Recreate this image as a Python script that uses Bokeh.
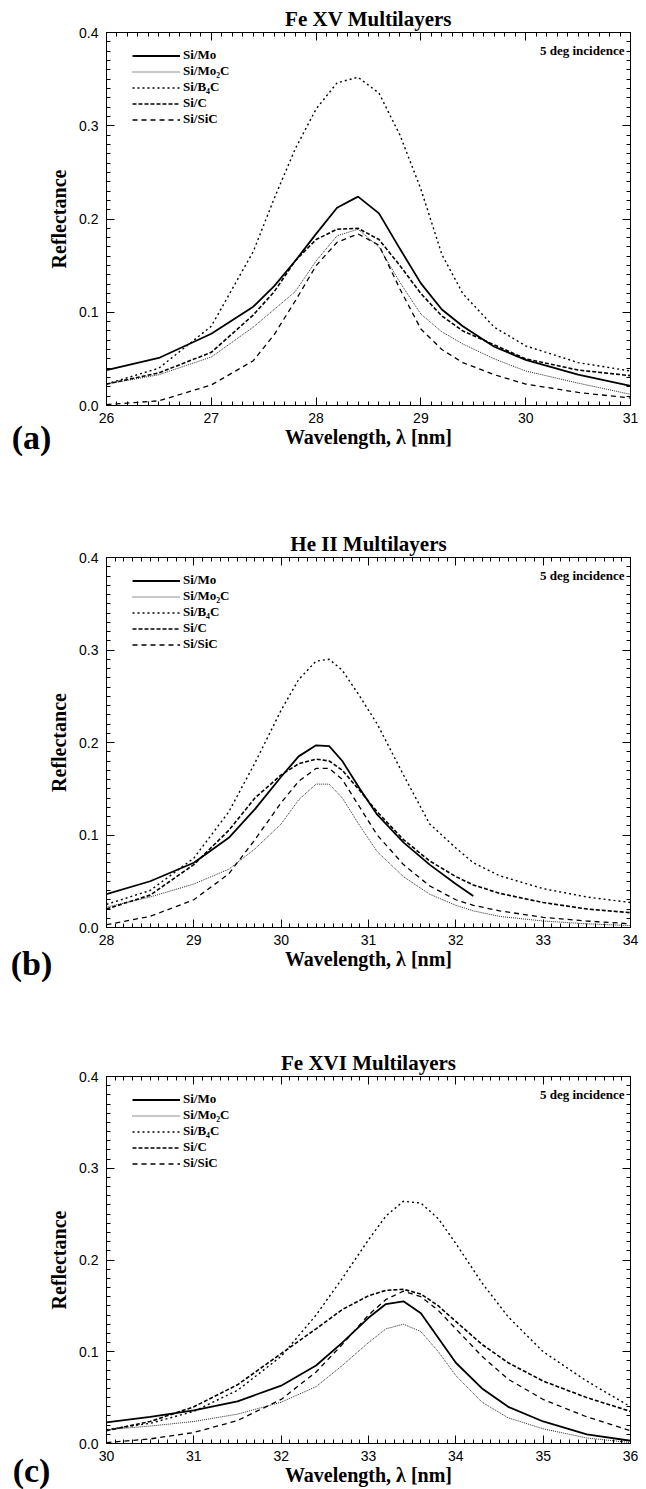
import numpy as np
from bokeh.plotting import figure
from bokeh.layouts import column
from bokeh.models import (Range1d, FixedTicker, NumeralTickFormatter, LinearAxis,
                          Legend, LegendItem, Label, CustomJSTickFormatter)
from bokeh.embed import file_html
from bokeh.resources import INLINE

# ---------------- data ----------------
series_names = ["Si/Mo", "Si/Mo\u2082C", "Si/B\u2084C", "Si/C", "Si/SiC"]
y_ticks = [0.0, 0.1, 0.2, 0.3, 0.4]
incidence_text = "5 deg incidence"
x_label = "Wavelength, \u03bb [nm]"
y_label = "Reflectance"

# (a) Fe XV
a_title = "Fe XV Multilayers"
a_tag = "(a)"
a_ticks = [26, 27, 28, 29, 30, 31]
a_wl = [26.0, 26.5, 27.0, 27.4, 27.6, 27.8, 28.0, 28.2, 28.4, 28.6, 28.8, 29.0, 29.2, 29.4, 29.7, 30.0, 30.5, 31.0]
a_si_mo = [0.038, 0.051, 0.077, 0.106, 0.128, 0.155, 0.184, 0.212, 0.224, 0.206, 0.168, 0.131, 0.103, 0.085, 0.063, 0.049, 0.033, 0.021]
a_si_mo2c = [0.023, 0.033, 0.052, 0.084, 0.103, 0.122, 0.155, 0.182, 0.189, 0.170, 0.132, 0.098, 0.079, 0.066, 0.050, 0.037, 0.024, 0.012]
a_si_b4c = [0.023, 0.040, 0.085, 0.165, 0.222, 0.275, 0.318, 0.346, 0.352, 0.335, 0.290, 0.232, 0.162, 0.120, 0.084, 0.064, 0.046, 0.037]
a_si_c = [0.023, 0.035, 0.057, 0.097, 0.122, 0.155, 0.178, 0.189, 0.190, 0.178, 0.150, 0.120, 0.096, 0.080, 0.065, 0.050, 0.038, 0.032]
a_si_sic = [0.001, 0.005, 0.022, 0.048, 0.076, 0.112, 0.150, 0.175, 0.184, 0.172, 0.125, 0.082, 0.060, 0.046, 0.033, 0.023, 0.014, 0.008]

# (b) He II
b_title = "He II Multilayers"
b_tag = "(b)"
b_ticks = [28, 29, 30, 31, 32, 33, 34]
b_wl = [28.0, 28.5, 29.0, 29.4, 29.7, 30.0, 30.2, 30.4, 30.55, 30.7, 30.9, 31.1, 31.4, 31.7, 32.0, 32.2, 32.5, 33.0, 33.5, 34.0]
nan = float("nan")
b_si_mo = [0.036, 0.050, 0.070, 0.097, 0.128, 0.163, 0.185, 0.197, 0.196, 0.180, 0.150, 0.122, 0.092, 0.068, 0.047, 0.034, nan, nan, nan, nan]
b_si_mo2c = [0.022, 0.033, 0.047, 0.063, 0.085, 0.112, 0.138, 0.155, 0.155, 0.140, 0.110, 0.082, 0.055, 0.036, 0.024, 0.018, 0.012, 0.007, 0.004, 0.002]
b_si_b4c = [0.025, 0.040, 0.075, 0.125, 0.178, 0.235, 0.268, 0.288, 0.290, 0.278, 0.250, 0.220, 0.165, 0.112, 0.086, 0.070, 0.056, 0.042, 0.033, 0.027]
b_si_c = [0.020, 0.035, 0.068, 0.105, 0.140, 0.165, 0.177, 0.182, 0.180, 0.170, 0.148, 0.125, 0.095, 0.072, 0.055, 0.046, 0.037, 0.027, 0.020, 0.016]
b_si_sic = [0.003, 0.012, 0.030, 0.058, 0.095, 0.135, 0.158, 0.172, 0.172, 0.160, 0.130, 0.100, 0.068, 0.045, 0.030, 0.024, 0.018, 0.011, 0.007, 0.004]

# (c) Fe XVI
c_title = "Fe XVI Multilayers"
c_tag = "(c)"
c_ticks = [30, 31, 32, 33, 34, 35, 36]
c_wl = [30.0, 30.5, 31.0, 31.5, 32.0, 32.4, 32.7, 33.0, 33.2, 33.4, 33.6, 33.8, 34.0, 34.3, 34.6, 35.0, 35.5, 36.0]
c_si_mo = [0.023, 0.029, 0.036, 0.046, 0.063, 0.085, 0.110, 0.137, 0.152, 0.155, 0.142, 0.115, 0.088, 0.060, 0.040, 0.024, 0.010, 0.003]
c_si_mo2c = [0.015, 0.019, 0.024, 0.032, 0.045, 0.062, 0.085, 0.110, 0.125, 0.130, 0.122, 0.100, 0.074, 0.045, 0.028, 0.016, 0.006, 0.001]
c_si_b4c = [0.015, 0.022, 0.035, 0.058, 0.095, 0.140, 0.180, 0.222, 0.248, 0.264, 0.262, 0.245, 0.218, 0.175, 0.138, 0.100, 0.068, 0.040]
c_si_c = [0.014, 0.024, 0.040, 0.064, 0.098, 0.125, 0.146, 0.161, 0.167, 0.168, 0.163, 0.150, 0.133, 0.108, 0.088, 0.068, 0.050, 0.035]
c_si_sic = [0.001, 0.005, 0.012, 0.025, 0.048, 0.078, 0.108, 0.140, 0.157, 0.166, 0.160, 0.145, 0.125, 0.095, 0.070, 0.048, 0.029, 0.014]

# ---------------- styles ----------------
STYLES = {
    "Si/Mo": dict(line_width=1.8, line_dash="solid", line_color="black"),
    "Si/Mo\u2082C": dict(line_width=0.9, line_dash="1 1", line_color="#111111"),
    "Si/B\u2084C": dict(line_width=1.4, line_dash="2 3", line_color="black"),
    "Si/C": dict(line_width=1.6, line_dash="4 2", line_color="black"),
    "Si/SiC": dict(line_width=1.3, line_dash="5 4", line_color="black"),
}
SERIF = "Liberation Serif"
SANS = "Liberation Sans"


def style_axis(ax, ticker, formatter, show_labels):
    ax.ticker = ticker
    ax.major_tick_in = 8
    ax.major_tick_out = 0
    ax.minor_tick_in = 4
    ax.minor_tick_out = 0
    ax.axis_line_color = "black"
    ax.major_tick_line_color = "black"
    ax.minor_tick_line_color = "black"
    if show_labels:
        ax.formatter = formatter
        ax.major_label_text_font = SANS
        ax.major_label_text_font_size = "14px"
        ax.major_label_text_color = "black"
        ax.axis_label_text_font = SERIF
        ax.axis_label_text_font_style = "bold"
        ax.axis_label_text_font_size = "20px"
        ax.axis_label_text_color = "black"
    else:
        ax.formatter = CustomJSTickFormatter(code="return ''")
        ax.major_label_text_font_size = "1px"
        ax.major_label_standoff = 0


def make_panel(title, tag, tag_drop, wl, curves, xticks, height, top, bottom):
    x0, x1 = xticks[0], xticks[-1]
    p = figure(width=646, height=height,
               x_range=Range1d(x0, x1), y_range=Range1d(y_ticks[0], y_ticks[-1]),
               output_backend="svg", toolbar_location=None, title=title,
               min_border_left=106, min_border_right=16,
               min_border_top=top, min_border_bottom=bottom,
               x_axis_label=x_label, y_axis_label=y_label)
    p.title.text_font = SERIF
    p.title.text_font_style = "bold"
    p.title.text_font_size = "21px"
    p.title.text_color = "black"
    p.title.align = "center"
    p.title.standoff = 4
    p.grid.visible = False
    p.outline_line_color = "black"
    p.outline_line_width = 1
    p.background_fill_color = "white"
    p.border_fill_color = "white"

    xt = FixedTicker(ticks=list(xticks),
                     minor_ticks=[float(v) for v in np.round(np.arange(x0, x1 + 1e-9, 0.1), 3)])
    yt = FixedTicker(ticks=list(y_ticks),
                     minor_ticks=[float(v) for v in np.round(np.arange(0, 0.4 + 1e-9, 0.01), 3)])

    xa = p.xaxis[0]
    ya = p.yaxis[0]
    style_axis(xa, xt, NumeralTickFormatter(format="0"), True)
    style_axis(ya, yt, NumeralTickFormatter(format="0.0"), True)
    xa.major_label_standoff = 7
    xa.axis_label_standoff = 0
    ya.major_label_standoff = 8
    ya.axis_label_standoff = 6

    for loc, t in (("right", yt), ("above", xt)):
        ax = LinearAxis()
        style_axis(ax, t, None, False)
        p.add_layout(ax, loc)

    items = []
    for name, vals in zip(series_names, curves):
        r = p.line(wl, vals, **STYLES[name])
        items.append(LegendItem(label=name, renderers=[r]))

    frame_h = height - top - bottom
    legend = Legend(items=items, location=(26, frame_h - 20 - 75),
                    padding=0, margin=0, spacing=0,
                    glyph_width=48, glyph_height=15, label_height=15,
                    label_standoff=3,
                    label_text_font=SERIF, label_text_font_style="bold",
                    label_text_font_size="13px", label_text_color="black",
                    border_line_color=None, background_fill_alpha=0)
    p.add_layout(legend)

    p.add_layout(Label(x=x1, y=y_ticks[-1], x_offset=-6, y_offset=-18,
                       text=incidence_text, text_align="right", text_baseline="middle",
                       text_font=SERIF, text_font_style="bold", text_font_size="13px",
                       text_color="black"))
    # panel letter, placed in the left side panel so it is not clipped to the frame
    p.add_layout(Label(x=x0, y=y_ticks[0], x_offset=-75, y_offset=-tag_drop,
                       text=tag, text_align="center", text_baseline="middle",
                       text_font=SERIF, text_font_style="bold", text_font_size="34px",
                       text_color="black"), "left")
    return p


pa = make_panel(a_title, a_tag, 32, a_wl, [a_si_mo, a_si_mo2c, a_si_b4c, a_si_c, a_si_sic],
                a_ticks, 525, 32, 120)
pb = make_panel(b_title, b_tag, 36, b_wl, [b_si_mo, b_si_mo2c, b_si_b4c, b_si_c, b_si_sic],
                b_ticks, 520, 32, 118)
pc = make_panel(c_title, c_tag, 27, c_wl, [c_si_mo, c_si_mo2c, c_si_b4c, c_si_c, c_si_sic],
                c_ticks, 444, 31, 46)

layout = column(pa, pb, pc, spacing=0)
open("out.html", "w").write(file_html(layout, INLINE))
